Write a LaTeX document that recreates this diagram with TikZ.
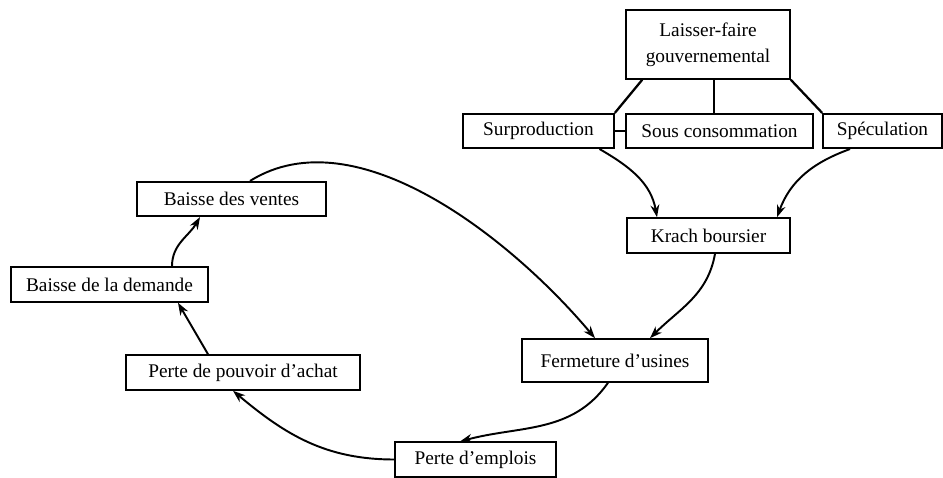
\documentclass[tikz,border=0pt]{standalone}
\usepackage{fontspec}
\setmainfont{Liberation Serif}
\usepackage{tikz}
\usetikzlibrary{arrows.meta,calc}
\tikzset{
  boite/.style={draw,line width=0.9pt,inner sep=0pt,minimum height=0.69cm,font=\fontsize{11}{15}\selectfont,align=center},
  lien/.style={line width=1.3pt},
  fleche/.style={-{Stealth[length=7pt,width=5pt]},line width=1.1pt}
}
\begin{document}
\begin{tikzpicture}
\useasboundingbox (0,0) rectangle (18.86,9.56);
\node[boite,minimum width=3.28cm,minimum height=1.38cm] (laisser) at (14.16,8.67) {Laisser-faire\\gouvernemental};
\node[boite,minimum width=3.02cm] (surprod) at (10.77,6.94) {Surproduction};
\node[boite,minimum width=3.74cm] (souscons) at (14.39,6.94) {Sous consommation};
\node[boite,minimum width=2.38cm] (specul) at (17.65,6.94) {Spéculation};
\node[boite,minimum width=3.26cm,minimum height=0.70cm] (krach) at (14.17,4.85) {Krach boursier};
\node[boite,minimum width=3.72cm,minimum height=0.86cm] (fermeture) at (12.30,2.35) {Fermeture d’usines};
\node[boite,minimum width=3.22cm] (emplois) at (9.51,0.37) {Perte d’emplois};
\node[boite,minimum width=4.68cm,minimum height=0.70cm] (pouvoir) at (4.86,2.11) {Perte de pouvoir d’achat};
\node[boite,minimum width=3.94cm,minimum height=0.70cm] (demande) at (2.19,3.87) {Baisse de la demande};
\node[boite,minimum width=3.78cm] (ventes) at (4.63,5.58) {Baisse des ventes};
\draw[lien] ([xshift=0.34cm]laisser.south west) -- (surprod.north east);
\draw[line width=0.9pt] ([xshift=0.12cm]laisser.south) -- ([xshift=0.12cm]laisser.south |- souscons.north);
\draw[lien] (laisser.south east) -- (specul.north west);
\draw[line width=0.9pt] (surprod.east) -- (souscons.west);
\draw[fleche] ([xshift=1.22cm]surprod.south) to[out=-30,in=100] ([xshift=-1.03cm]krach.north);
\draw[fleche] ([xshift=-0.65cm]specul.south) to[out=200,in=70] ([xshift=1.37cm]krach.north);
\draw[fleche] ([xshift=0.13cm]krach.south) to[out=-100,in=45] ([xshift=0.70cm]fermeture.north);
\draw[fleche] ([xshift=0.37cm]ventes.north) to[out=32,in=130,looseness=0.85] ([xshift=-0.40cm]fermeture.north);
\draw[fleche] ([xshift=-0.14cm]fermeture.south) to[out=-125,in=15] ([xshift=-0.31cm]emplois.north);
\draw[fleche] (emplois.west) to[out=180,in=-40] ([xshift=-0.20cm]pouvoir.south);
\draw[fleche] ([xshift=-0.70cm]pouvoir.north) -- ([xshift=1.37cm]demande.south);
\draw[fleche] ([xshift=1.25cm]demande.north) to[out=90,in=-120] ([xshift=-0.63cm]ventes.south);
\end{tikzpicture}
\end{document}
